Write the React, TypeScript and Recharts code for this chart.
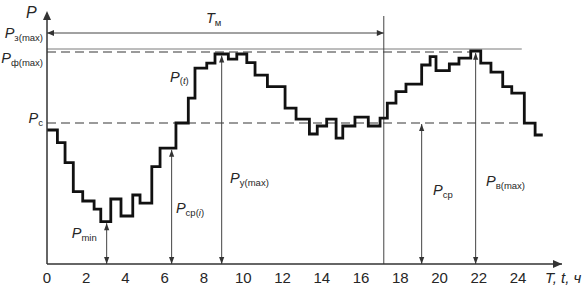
import React from "react";
import { LineChart, Line, XAxis, YAxis, ReferenceLine, ReferenceDot } from "recharts";

// load curve P(t): step start hour and level held until the next step
const hours = [
  0, 0.53, 0.92, 1.34, 1.82, 2.4, 2.74, 3.25, 3.77, 4.37, 4.74, 5.34, 5.76, 6.57, 7.2, 7.54, 8.14,
  8.56, 9.24, 9.67, 10.18, 10.6, 11.23, 12.13, 12.69, 13.37, 13.77, 14.25, 14.73, 15.07, 15.69,
  16.37, 16.97, 17.34, 17.78, 18.29, 19.09, 19.52, 19.82, 20.5, 20.99, 21.59, 22.1, 22.62, 23.22,
  23.68, 24.32, 24.87, 25.26,
];
const power = [
  67, 60.7, 50.7, 36.2, 31.5, 27.4, 21.2, 32.5, 24, 34.5, 30.4, 48.7, 57.9, 70.5, 82.9, 97.9, 100.4,
  105, 102.4, 105, 100.7, 94.4, 88.7, 77.9, 72.4, 65, 69, 72.4, 62.9, 69, 73.4, 69, 72.9, 80.4,
  86.2, 89.9, 99.5, 103.7, 96.7, 100, 102.9, 106.5, 100.4, 95.9, 88.7, 85.4, 70.4, 64.5, 64.5,
];

const hourTicks = [0, 2, 4, 6, 8, 10, 12, 14, 16, 18, 20, 22, 24];

// left axis labels (level of the label baseline)
const yLabelLevels = [112.9, 100.5, 70.5];
const yLabelSubs = ["з(max)", "ф(max)", "с"];

// reference levels
const P_TM = 115.5;
const P_ZMAX = 107.5;
const P_FMAX = 106;
const P_C = 70.5;
const T_M = 17.16;

// measurement arrows from the time axis up to the curve
const measureHours = [3.04, 6.35, 8.9, 19.09, 21.84];
const measureTops = [20.4, 57.1, 104.2, 70, 105.6];

// text annotations: position (hour, level), symbol and subscript ("|" toggles italic)
const notes = [
  { t: 8.1, p: 120.5, main: "T", sub: "м" },
  { t: 6.27, p: 91.2, main: "P", sub: "(|t|)" },
  { t: 1.26, p: 13, main: "P", sub: "min" },
  { t: 6.57, p: 25.5, main: "P", sub: "ср(|i|)" },
  { t: 9.33, p: 40.5, main: "P", sub: "у(max)" },
  { t: 19.67, p: 34.5, main: "P", sub: "ср" },
  { t: 22.37, p: 39, main: "P", sub: "в(max)" },
];

const X_MAX = 26.24;
const Y_MAX = 125.5;

const data = hours.map((t, i) => ({ t, p: power[i] }));

const FONT = "'Liberation Sans', Arial, sans-serif";
const INK = "#262626";
const LINE = "#444";
const GUIDE = "#7a7a7a";

function Sym({ x, y, main, sub, anchor = "start" }: any) {
  const parts = String(sub).split("|");
  return (
    <text x={x} y={y} fontFamily={FONT} fill={INK} textAnchor={anchor}>
      <tspan fontStyle="italic" fontSize={14.5}>
        {main}
      </tspan>
      <tspan fontSize={9.5} dy={2.5}>
        {parts.map((s, i) => (
          <tspan key={i} fontStyle={i % 2 ? "italic" : "normal"}>
            {s}
          </tspan>
        ))}
      </tspan>
    </text>
  );
}

function Head({ cx, cy, dir, len = 7, half = 2.6 }: any) {
  let pts = "";
  if (dir === "up") pts = `${cx},${cy} ${cx - half},${cy + len} ${cx + half},${cy + len}`;
  if (dir === "down") pts = `${cx},${cy} ${cx - half},${cy - len} ${cx + half},${cy - len}`;
  if (dir === "left") pts = `${cx},${cy} ${cx + len},${cy - half} ${cx + len},${cy + half}`;
  if (dir === "right") pts = `${cx},${cy} ${cx - len},${cy - half} ${cx - len},${cy + half}`;
  return <polygon points={pts} fill="#333" />;
}

const renderYTick = (props: any) => {
  const i = yLabelLevels.indexOf(props.payload.value);
  if (i < 0) return <g />;
  return <Sym x={43} y={props.y} main="P" sub={yLabelSubs[i]} anchor="end" />;
};

export default function App() {
  return (
    <div style={{ position: "absolute", left: 0, top: 0, width: 587, height: 286, background: "#fff" }}>
      <LineChart width={587} height={286} data={data} margin={{ top: 13, right: 25, left: 0, bottom: 0 }}>
        <XAxis
          dataKey="t"
          type="number"
          domain={[0, X_MAX]}
          ticks={hourTicks}
          interval={0}
          tickLine={false}
          axisLine={{ stroke: "#333", strokeWidth: 1.5 }}
          tick={{ fill: INK, fontSize: 15, fontFamily: FONT }}
          height={22}
        />
        <YAxis
          type="number"
          domain={[0, Y_MAX]}
          ticks={yLabelLevels}
          interval={0}
          width={47}
          tickLine={false}
          axisLine={{ stroke: "#333", strokeWidth: 1.5 }}
          tick={renderYTick}
        />

        <ReferenceLine
          segment={[{ x: 0, y: P_ZMAX }, { x: 24.19, y: P_ZMAX }]}
          stroke={GUIDE}
          strokeWidth={1}
          ifOverflow="visible"
        />
        <ReferenceLine
          segment={[{ x: 0, y: P_FMAX }, { x: 21.66, y: P_FMAX }]}
          stroke={GUIDE}
          strokeWidth={1.5}
          strokeDasharray="9 5"
          ifOverflow="visible"
        />
        <ReferenceLine
          segment={[{ x: 0, y: P_C }, { x: 24.3, y: P_C }]}
          stroke={GUIDE}
          strokeWidth={1.5}
          strokeDasharray="9 5"
          ifOverflow="visible"
        />

        {/* T_м span */}
        <ReferenceLine
          segment={[{ x: T_M, y: 124 }, { x: T_M, y: 0 }]}
          stroke={LINE}
          strokeWidth={1}
          ifOverflow="visible"
        />
        <ReferenceLine
          segment={[{ x: 0, y: P_TM }, { x: T_M, y: P_TM }]}
          stroke={LINE}
          strokeWidth={1}
          ifOverflow="visible"
        />
        <ReferenceDot x={0} y={P_TM} ifOverflow="visible" shape={(p: any) => <Head {...p} dir="left" len={7} half={3} />} />
        <ReferenceDot x={T_M} y={P_TM} ifOverflow="visible" shape={(p: any) => <Head {...p} dir="right" len={7} half={3} />} />

        {measureHours.map((t, i) => (
          <ReferenceLine
            key={`m${i}`}
            segment={[{ x: t, y: 0 }, { x: t, y: measureTops[i] }]}
            stroke={LINE}
            strokeWidth={1}
            ifOverflow="visible"
          />
        ))}
        {measureHours.map((t, i) => (
          <ReferenceDot key={`mt${i}`} x={t} y={measureTops[i]} ifOverflow="visible" shape={(p: any) => <Head {...p} dir="up" />} />
        ))}
        {measureHours.map((t, i) => (
          <ReferenceDot key={`mb${i}`} x={t} y={0} ifOverflow="visible" shape={(p: any) => <Head {...p} dir="down" />} />
        ))}

        <Line
          type="stepAfter"
          dataKey="p"
          stroke="#111"
          strokeWidth={2.8}
          dot={false}
          activeDot={false}
          isAnimationActive={false}
        />

        {/* axis arrows and axis names */}
        <ReferenceDot x={0} y={Y_MAX} ifOverflow="visible" shape={(p: any) => <Head {...p} cy={p.cy - 2} dir="up" len={9} half={4} />} />
        <ReferenceDot x={X_MAX} y={0} ifOverflow="visible" shape={(p: any) => <Head {...p} dir="right" len={9} half={4} />} />
        <ReferenceDot
          x={0}
          y={Y_MAX}
          ifOverflow="visible"
          shape={(p: any) => (
            <text x={p.cx - 21} y={p.cy + 5} fontFamily={FONT} fontSize={16} fontStyle="italic" fill={INK}>
              P
            </text>
          )}
        />
        <ReferenceDot
          x={X_MAX}
          y={0}
          ifOverflow="visible"
          shape={(p: any) => (
            <text x={p.cx - 17} y={p.cy + 19} fontFamily={FONT} fontSize={15} fontStyle="italic" fill={INK}>
              T, t, ч
            </text>
          )}
        />

        {notes.map((n, i) => (
          <ReferenceDot
            key={`n${i}`}
            x={n.t}
            y={n.p}
            ifOverflow="visible"
            shape={(p: any) => <Sym x={p.cx} y={p.cy} main={n.main} sub={n.sub} />}
          />
        ))}
      </LineChart>
    </div>
  );
}
